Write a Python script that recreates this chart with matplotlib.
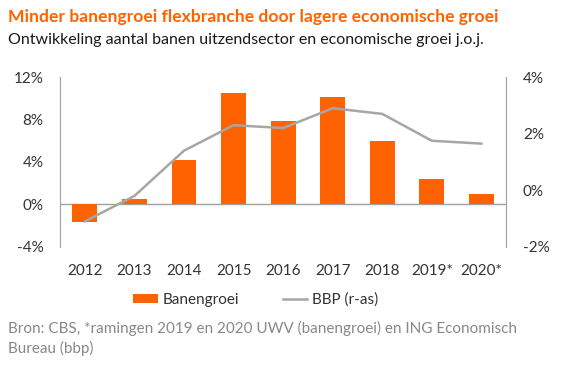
import numpy as np
import matplotlib.pyplot as plt

plt.rcParams['font.family'] = ['Lato', 'DejaVu Sans']

# data
years = ['2012', '2013', '2014', '2015', '2016', '2017', '2018', '2019*', '2020*']
banengroei = [-1.7, 0.5, 4.2, 10.5, 7.9, 10.1, 6.0, 2.4, 1.0]
bbp = [-1.1, -0.2, 1.4, 2.3, 2.2, 2.9, 2.7, 1.75, 1.65]

orange = '#FF6200'
grey_line = '#A6A6A6'
text_col = '#333333'

fig = plt.figure(figsize=(5.72, 3.69), dpi=100)
ax = fig.add_axes([0.105, 0.331, 0.78, 0.46])
ax2 = ax.twinx()

x = np.arange(len(years))
ax.bar(x, banengroei, width=0.5, color=orange, label='Banengroei', zorder=2)
ax2.plot(x, bbp, color=grey_line, lw=1.8, label='BBP (r-as)', zorder=3)

ax.set_xlim(-0.5, len(years) - 0.5)
ax.set_ylim(-4, 12)
ax.set_yticks([-4, 0, 4, 8, 12])
ax.set_yticklabels(['-4%', '0%', '4%', '8%', '12%'])
ax2.set_ylim(-2, 4)
ax2.set_yticks([-2, 0, 2, 4])
ax2.set_yticklabels(['-2%', '0%', '2%', '4%'])
ax.set_xticks(x)
ax.set_xticklabels(years)
ax.axhline(0, color='#A0A0A0', lw=1, zorder=1)

for a in (ax, ax2):
    for s in ['top', 'bottom']:
        a.spines[s].set_visible(False)
    a.spines['left'].set_color('#A0A0A0')
    a.spines['right'].set_color('#A0A0A0')
    a.tick_params(length=0, labelsize=11, colors=text_col)
ax2.spines['left'].set_visible(False)
ax.spines['right'].set_visible(False)
ax.tick_params(axis='x', pad=12)
ax.tick_params(axis='y', pad=12)
ax2.tick_params(axis='y', pad=12)

fig.text(0.014, 0.953, 'Minder banengroei flexbranche door lagere economische groei',
         color=orange, fontsize=12.6, fontweight='bold', va='center')
fig.text(0.014, 0.892, 'Ontwikkeling aantal banen uitzendsector en economische groei j.o.j.',
         color='#1a1a1a', fontsize=11.5, va='center')

h1, l1 = ax.get_legend_handles_labels()
h2, l2 = ax2.get_legend_handles_labels()
fig.legend(h1 + h2, l1 + l2, loc='center', bbox_to_anchor=(0.447, 0.187), ncol=2,
           frameon=False, fontsize=11, handlelength=1.6, handleheight=0.5,
           columnspacing=2.9, handletextpad=0.3, labelcolor=text_col)

fig.text(0.014, 0.11, 'Bron: CBS, *ramingen 2019 en 2020 UWV (banengroei) en ING Economisch',
         color='#888888', fontsize=11, va='center')
fig.text(0.014, 0.055, 'Bureau (bbp)', color='#888888', fontsize=11, va='center')

fig.savefig('out.png', dpi=100)
